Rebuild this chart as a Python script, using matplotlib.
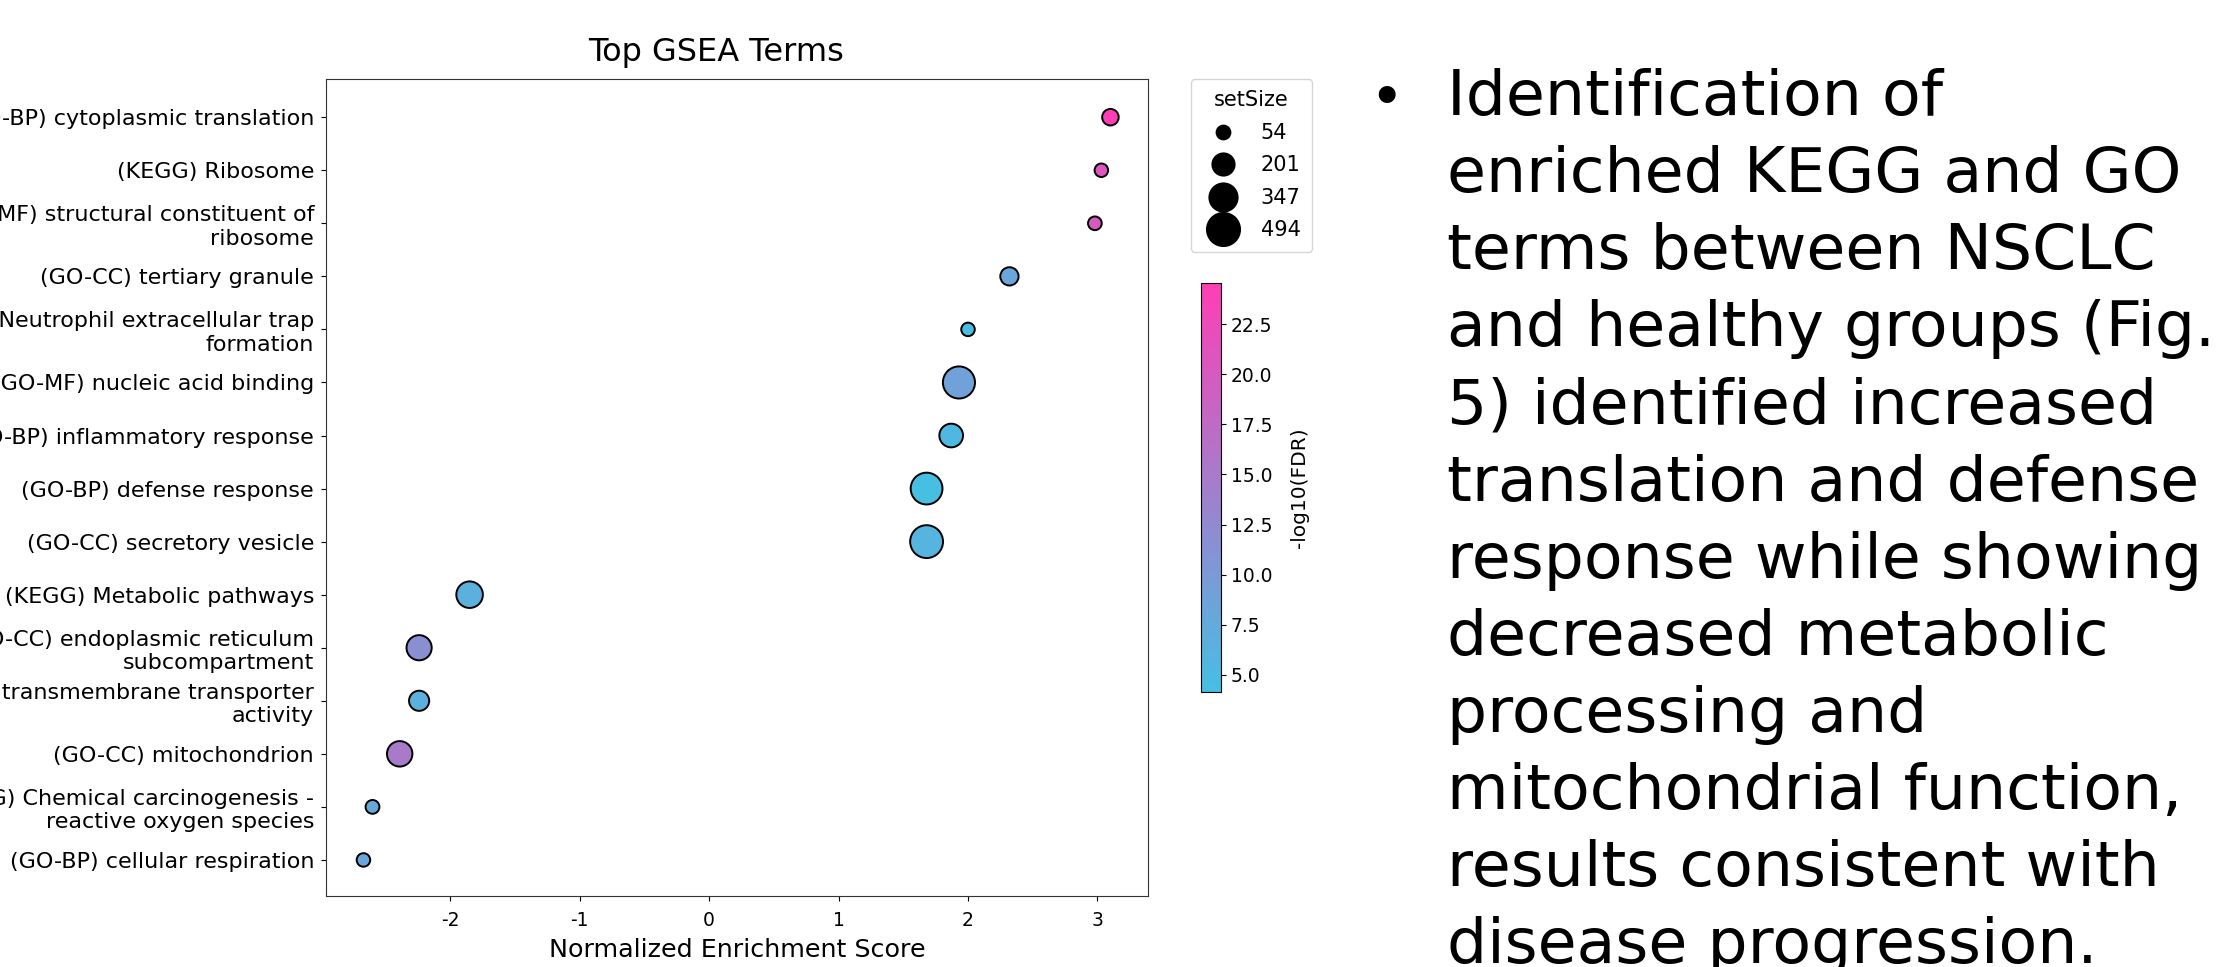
import numpy as np
import matplotlib
matplotlib.use("Agg")
import matplotlib.pyplot as plt
from matplotlib.colors import LinearSegmentedColormap, Normalize
from matplotlib.cm import ScalarMappable
from matplotlib.lines import Line2D

plt.rcParams['font.family'] = ['DejaVu Sans']
plt.rcParams['axes.unicode_minus'] = False

# top GSEA terms, ordered top to bottom
terms = [
    "(GO-BP) cytoplasmic translation",
    "(KEGG) Ribosome",
    "(GO-MF) structural constituent of\nribosome",
    "(GO-CC) tertiary granule",
    "(KEGG) Neutrophil extracellular trap\nformation",
    "(GO-MF) nucleic acid binding",
    "(GO-BP) inflammatory response",
    "(GO-BP) defense response",
    "(GO-CC) secretory vesicle",
    "(KEGG) Metabolic pathways",
    "(GO-CC) endoplasmic reticulum\nsubcompartment",
    "(GO-MF) transmembrane transporter\nactivity",
    "(GO-CC) mitochondrion",
    "(KEGG) Chemical carcinogenesis -\nreactive oxygen species",
    "(GO-BP) cellular respiration",
]
nes = [3.10, 3.03, 2.98, 2.32, 2.00, 1.93, 1.87, 1.68, 1.68,
       -1.85, -2.24, -2.24, -2.39, -2.60, -2.67]
set_size = [98, 54, 56, 128, 54, 470, 239, 460, 494,
            310, 275, 163, 282, 58, 54]
neg_log_fdr = [24.55, 20.8, 20.0, 8.1, 4.7, 8.8, 5.3, 4.15, 5.8,
               6.5, 11.7, 6.6, 15.0, 7.8, 8.0]

bullet_lines = [
    "Identification of",
    "enriched KEGG and GO",
    "terms between NSCLC",
    "and healthy groups (Fig.",
    "5) identified increased",
    "translation and defense",
    "response while showing",
    "decreased metabolic",
    "processing and",
    "mitochondrial function,",
    "results consistent with",
    "disease progression.",
]

cmap = LinearSegmentedColormap.from_list("fdr", ["#46bfe3", "#ff3eb5"])
norm = Normalize(vmin=min(neg_log_fdr), vmax=max(neg_log_fdr))

lo, hi = min(set_size), max(set_size)
s_min, s_max = 95, 560


def marker_area(n):
    return s_min + (np.asarray(n, dtype=float) - lo) / (hi - lo) * (s_max - s_min)


fig = plt.figure(figsize=(22.2, 9.67), dpi=100)
ax = fig.add_axes([0.1468, 0.0734, 0.3703, 0.8449])

y = np.arange(len(terms))[::-1]
ax.scatter(nes, y, s=marker_area(set_size), c=neg_log_fdr, cmap=cmap, norm=norm,
           edgecolors="black", linewidths=1.4, zorder=3)

ax.set_yticks(y)
ax.set_yticklabels(terms, fontsize=16)
ax.set_ylim(-0.68, 14.72)
ax.set_xlim(-2.96, 3.39)
ax.set_xticks([-2, -1, 0, 1, 2, 3])
ax.tick_params(axis="x", labelsize=13.5, pad=7)
ax.tick_params(axis="y", pad=5)
ax.set_xlabel("Normalized Enrichment Score", fontsize=18.3, labelpad=6)
ax.set_title("Top GSEA Terms", fontsize=23, pad=13, x=0.4745)
for sp in ax.spines.values():
    sp.set_color("#333333")

# size legend
sizes = np.linspace(lo, hi, 4)
handles = [Line2D([], [], ls="", marker="o", color="black",
                  markersize=np.sqrt(marker_area(v)), markeredgewidth=1.6)
           for v in sizes]
labels = [str(int(round(v))) for v in sizes]
fig.legend(handles, labels, title="setSize", loc="upper left",
           bbox_to_anchor=(0.5365, 0.9183), borderaxespad=0,
           fontsize=15, title_fontsize=15, labelspacing=0.6,
           handletextpad=0.8, borderpad=0.55)

# colour bar
cax = fig.add_axes([0.541, 0.2844, 0.009, 0.423])
cb = fig.colorbar(ScalarMappable(norm=norm, cmap=cmap), cax=cax)
cbar_ticks = [5.0, 7.5, 10.0, 12.5, 15.0, 17.5, 20.0, 22.5]
cb.set_ticks(cbar_ticks)
cb.ax.set_yticklabels([f"{t:.1f}" for t in cbar_ticks])
cb.ax.tick_params(labelsize=13.5)
cb.set_label("-log10(FDR)", fontsize=14.5, labelpad=13)

# bullet text
x_text = 1447 / 2220
y0 = 1 - 115 / 967
dy = 77.1 / 967
fig.text(1386 / 2220, y0 - 0.001, "\u2022", fontsize=42, ha="center", va="baseline")
for i, line in enumerate(bullet_lines):
    fig.text(x_text, y0 - i * dy, line, fontsize=45.5, ha="left", va="baseline")

fig.savefig("out.png", dpi=100)
